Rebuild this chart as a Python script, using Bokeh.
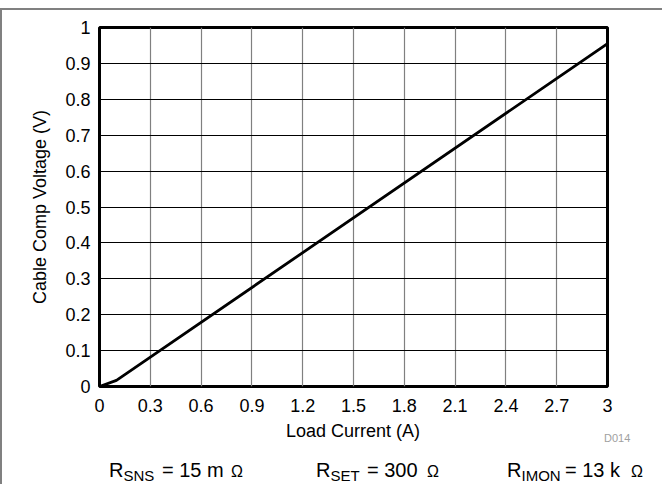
from bokeh.plotting import figure
from bokeh.layouts import column
from bokeh.models import FixedTicker, Div
from bokeh.embed import file_html
from bokeh.resources import INLINE

# ---- data ----
load_current = [0.0, 0.1, 3.0]
cable_comp_voltage = [0.0, 0.017, 0.955]

x_ticks = [0, 0.3, 0.6, 0.9, 1.2, 1.5, 1.8, 2.1, 2.4, 2.7, 3.0]
x_tick_labels = ["0", "0.3", "0.6", "0.9", "1.2", "1.5", "1.8", "2.1", "2.4", "2.7", "3"]
y_ticks = [0, 0.1, 0.2, 0.3, 0.4, 0.5, 0.6, 0.7, 0.8, 0.9, 1.0]
y_tick_labels = ["0", "0.1", "0.2", "0.3", "0.4", "0.5", "0.6", "0.7", "0.8", "0.9", "1"]

x_title = "Load Current (A)"
y_title = "Cable Comp Voltage (V)"
figure_id = "D014"
res_names = ["SNS", "SET", "IMON"]
res_values = ["= 15 m", "= 300", "= 13 k"]

FONT = "Liberation Sans"
GRAY = "#808080"

W = 660
H1 = 412
FL, FR, FT, FB = 97, 605, 17, 376   # frame edges in canvas px
LEFT = 2                            # image x where the canvases start
TOP1 = 10                           # image y where the first canvas starts

p = figure(width=W, height=H1, output_backend="svg", toolbar_location=None,
           x_range=(0, 3), y_range=(0, 1),
           min_border_left=FL, min_border_right=W - FR,
           min_border_top=FT, min_border_bottom=H1 - FB)

p.outline_line_color = "black"
p.outline_line_width = 3
p.background_fill_color = "white"
p.border_fill_color = "white"

p.xaxis.ticker = FixedTicker(ticks=x_ticks)
p.yaxis.ticker = FixedTicker(ticks=y_ticks)
p.xaxis.major_label_overrides = {t: l for t, l in zip(x_ticks, x_tick_labels)}
p.yaxis.major_label_overrides = {t: l for t, l in zip(y_ticks, y_tick_labels)}

for ax in (p.xaxis, p.yaxis):
    ax.axis_line_color = None
    ax.major_tick_line_color = None
    ax.minor_tick_line_color = None
    ax.major_tick_out = 0
    ax.major_tick_in = 0
    ax.major_label_text_font = FONT
    ax.major_label_text_font_size = "18px"
    ax.major_label_text_color = "black"
    ax.axis_label_text_font = FONT
    ax.axis_label_text_font_size = "18px"
    ax.axis_label_text_font_style = "normal"
    ax.axis_label_text_color = "black"

p.yaxis.axis_label = y_title
p.xaxis.major_label_standoff = 12
p.yaxis.major_label_standoff = 9
p.yaxis.axis_label_standoff = 12

p.xgrid.ticker = FixedTicker(ticks=x_ticks)
p.ygrid.ticker = FixedTicker(ticks=y_ticks)
p.xgrid.grid_line_color = GRAY
p.xgrid.grid_line_width = 1.2
p.ygrid.grid_line_color = "#000000"
p.ygrid.grid_line_width = 1

p.line(load_current, cable_comp_voltage, line_color="black", line_width=2.8)

# ---- bottom strip with the texts under the axis ----
H2 = 62
TOP2 = TOP1 + H1        # image y where the strip starts
ASC = 0.8465            # baseline position (em) for line-height: 1 in Liberation Sans


def span(text, ix, baseline, size, color="black", center=False):
    left = ix - LEFT
    top = baseline - ASC * size - TOP2
    tr = "transform:translateX(-50%);" if center else ""
    return (f'<span style="position:absolute;left:{left:.1f}px;top:{top:.1f}px;'
            f'font-size:{size}px;line-height:1;color:{color};white-space:nowrap;{tr}">'
            f'{text}</span>')


parts = [span(x_title, 353, 437.5, 18, center=True),
         span(figure_id, 604, 442, 11, color="#a0a0a0")]

r_x = [109, 316, 507]
val_x = [162, 367, 565]
ohm_x = [231, 427, 631]
for name, val, xr, xv, xo in zip(res_names, res_values, r_x, val_x, ohm_x):
    parts.append(span("R", xr, 477, 20))
    parts.append(span(name, xr + 14.5, 481, 15))
    parts.append(span(val, xv, 477, 20))
    parts.append(span("Ω", xo, 477, 16))

html = (f'<div style="position:relative;width:{W}px;height:{H2}px;overflow:visible;'
        f'font-family:\'{FONT}\';">' + "".join(parts) + '</div>')
div = Div(text=html, width=W, height=H2, margin=0)

layout = column(p, div, spacing=0)
layout.styles = {"margin-top": "8px",
                 "border-top": "2px solid " + GRAY,
                 "border-left": "2px solid " + GRAY}

open("out.html", "w").write(file_html(layout, INLINE))
